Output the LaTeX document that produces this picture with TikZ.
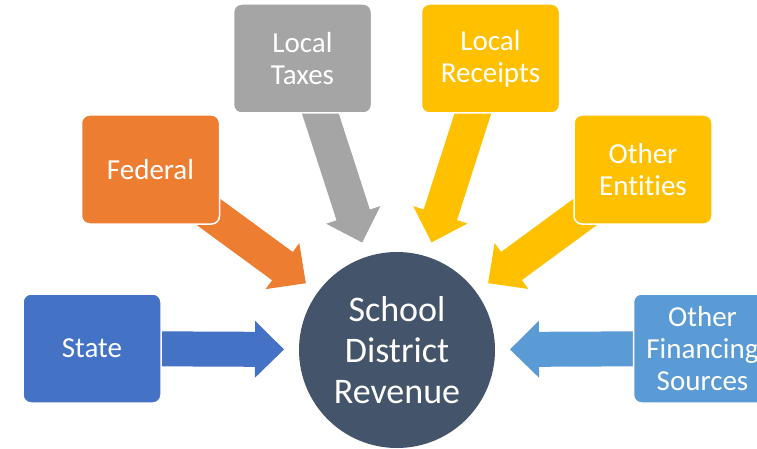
\documentclass[tikz,border=0pt]{standalone}
\usepackage{fontspec}
\setmainfont{Carlito}[Ligatures=NoCommon]
\usetikzlibrary{calc,backgrounds}
\definecolor{stateblue}{HTML}{4472C4}
\definecolor{fedorange}{HTML}{ED7D31}
\definecolor{taxgray}{HTML}{A5A5A5}
\definecolor{recyellow}{HTML}{FFC000}
\definecolor{finblue}{HTML}{5B9BD5}
\definecolor{revslate}{HTML}{44546A}
\newcommand{\fatarrow}[3]{%
\coordinate (tip) at ($(#3)!113pt!(#2)$);
\coordinate (base) at ($(tip)!29pt!(#2)$);
\fill [#1] ($(#2)!17.5pt!90:(tip)$) -- ($(base)!17.5pt!90:(tip)$) -- ($(base)!28.5pt!90:(tip)$) -- (tip) -- ($(base)!28.5pt!-90:(tip)$) -- ($(base)!17.5pt!-90:(tip)$) -- ($(#2)!17.5pt!-90:(tip)$) -- cycle;}
\tikzset{
srcbox/.style={draw=white,line width=1.5pt,rounded corners=8pt,minimum width=138pt,minimum height=109pt,align=center,text=white,font=\fontsize{29}{32}\selectfont},
revcircle/.style={circle,fill=revslate,minimum size=196pt,inner sep=0pt,align=center,text=white,font=\fontsize{36}{41}\selectfont}
}
\begin{document}
\begin{tikzpicture}[x=1pt,y=-1pt]
\useasboundingbox (0,0) rectangle (757,449);
\clip (0,0) rectangle (757,449);
\node [revcircle] (rev) at (397,350) {School\\District\\Revenue};
\node [srcbox,fill=stateblue] (state) at (92,348.5) {State};
\node [srcbox,fill=fedorange] (federal) at (150.5,169.5) {Federal};
\node [srcbox,fill=taxgray] (taxes) at (302.5,58.5) {Local\\Taxes};
\node [srcbox,fill=recyellow] (receipts) at (490.5,58.5) {Local\\Receipts};
\node [srcbox,fill=recyellow] (entities) at (643,169.5) {Other\\Entities};
\node [srcbox,fill=finblue] (financing) at (702.5,348.5) {Other\\Financing\\Sources};
\begin{scope}[on background layer]
\fatarrow{stateblue}{state}{rev}
\fatarrow{fedorange}{federal}{rev}
\fatarrow{taxgray}{taxes}{rev}
\fatarrow{recyellow}{receipts}{rev}
\fatarrow{recyellow}{entities}{rev}
\fatarrow{finblue}{financing}{rev}
\end{scope}
\end{tikzpicture}
\end{document}
